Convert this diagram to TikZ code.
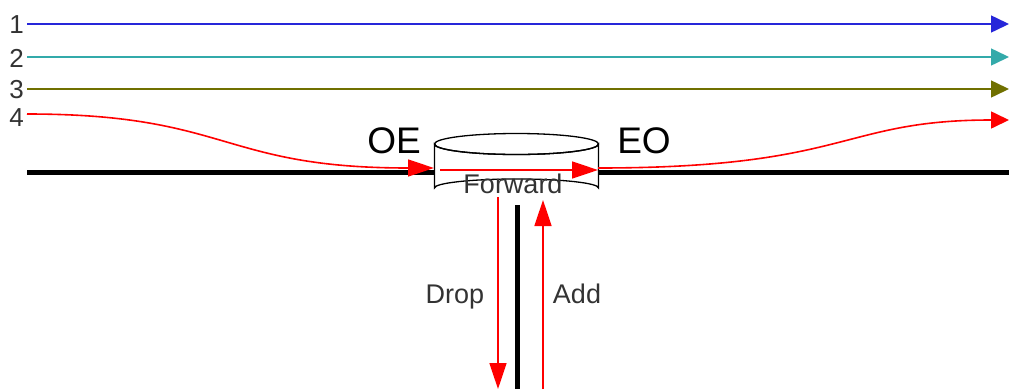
\documentclass[tikz,border=0pt]{standalone}
\usepackage{fontspec}
\setmainfont{Liberation Sans}
\usetikzlibrary{arrows.meta}
\definecolor{lblue}{HTML}{2626D9}
\definecolor{lteal}{HTML}{33AAAA}
\definecolor{lolive}{HTML}{707000}
\definecolor{lred}{HTML}{FF0000}
\definecolor{txt}{HTML}{333333}
\tikzset{
  chan/.style={line width=1.5pt, -{Triangle[length=18pt,width=17pt]}},
  redarr/.style={lred, line width=1.6pt, -{Triangle[length=26pt,width=17pt]}},
  fiber/.style={line width=5pt, black},
  numlbl/.style={txt, font=\fontsize{26}{26}\selectfont, inner sep=0pt, anchor=east},
  biglbl/.style={black, font=\fontsize{37}{37}\selectfont, inner sep=0pt, anchor=base},
  midlbl/.style={txt, font=\fontsize{27}{27}\selectfont, inner sep=0pt, anchor=base},
}
\begin{document}
\begin{tikzpicture}[x=1pt,y=-1pt]
\useasboundingbox (0,0) rectangle (1009,389);
% coordinates
\coordinate (s1) at (27,24);  \coordinate (e1) at (1009,24);
\coordinate (s2) at (27,57);  \coordinate (e2) at (1009,57);
\coordinate (s3) at (27,89);  \coordinate (e3) at (1009,89);
\coordinate (s4) at (27,114); \coordinate (e4) at (1009,120);
\coordinate (fl) at (27,172); \coordinate (fr) at (1009,172);
\coordinate (vt) at (517,205); \coordinate (vb) at (517,389);
\coordinate (dropend) at (498,389);
\coordinate (addstart) at (543,389);
% labels 1-4
\node[numlbl] (n1) at (24,25) {1};
\node[numlbl] (n2) at (24,58) {2};
\node[numlbl] (n3) at (24,90) {3};
\node[numlbl] (n4) at (24,118) {4};
% through channels
\draw[chan, lblue] (s1) -- (e1);
\draw[chan, lteal] (s2) -- (e2);
\draw[chan, lolive] (s3) -- (e3);
% fiber lines
\draw[fiber] (fl) -- (434,172);
\draw[fiber] (598,172) -- (fr);
\draw[fiber] (vt) -- (vb);
% cylinder (Forward)
\node[minimum width=164pt, minimum height=64pt, inner sep=0pt] (fwd) at (516.5,166) {};
\filldraw[fill=white, draw=black, line width=1.3pt]
  (434.5,144) -- (434.5,188) arc[start angle=180, end angle=360, x radius=82, y radius=9]
  -- (598.5,144) arc[start angle=0, end angle=180, x radius=82, y radius=10.5] -- cycle;
\draw[line width=1.3pt] (516.5,144) ellipse[x radius=82, y radius=10.5];
\node[midlbl, font=\fontsize{27}{27}\selectfont] (fwdtxt) at (513,193) {Forward};
% OE / EO
\node[biglbl] (oe) at (394,153) {OE};
\node[biglbl] (eo) at (644,153) {EO};
% wavelength 4 path
\coordinate (inL) at (434,168);
\coordinate (inS) at (440,170);
\coordinate (outR) at (598,170);
\coordinate (outS) at (598,168);
\draw[redarr] (s4) .. controls (230,114) and (220,168) .. (inL);
\draw[redarr] (inS) -- (outR);
\draw[redarr, -{Triangle[length=18pt,width=17pt]}] (outS) .. controls (850,168) and (840,120) .. (e4);
% drop / add
\coordinate (dropst) at (498,197);
\coordinate (addend) at (543,200);
\draw[redarr] (dropst) -- (dropend);
\draw[redarr] (addstart) -- (addend);
\node[midlbl] (drop) at (455,303) {Drop};
\node[midlbl] (add) at (577,303) {Add};
\end{tikzpicture}
\end{document}
